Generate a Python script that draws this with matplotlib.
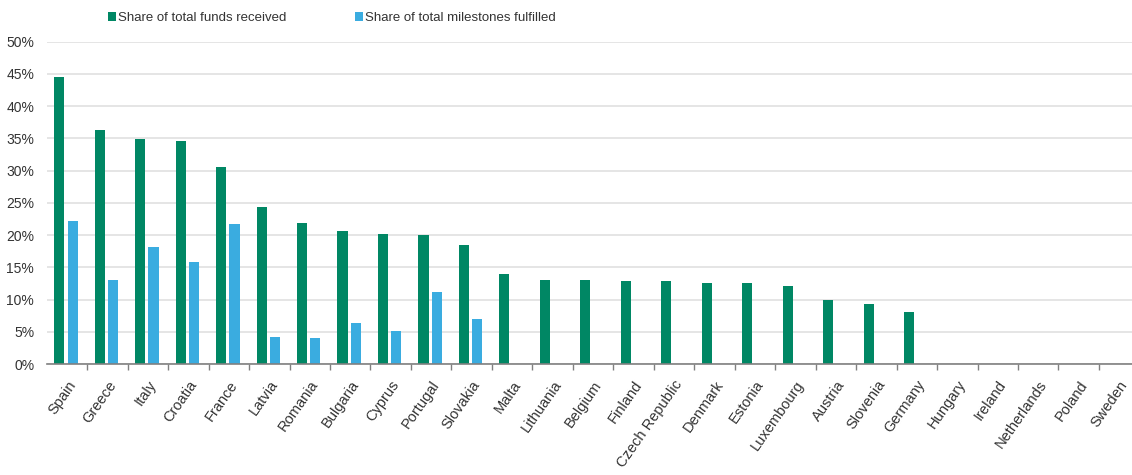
import numpy as np
import matplotlib
matplotlib.use("Agg")
import matplotlib.pyplot as plt
from matplotlib.ticker import PercentFormatter, FixedLocator

plt.rcParams['font.family'] = ['Liberation Sans', 'DejaVu Sans']

countries = ["Spain", "Greece", "Italy", "Croatia", "France", "Latvia", "Romania",
             "Bulgaria", "Cyprus", "Portugal", "Slovakia", "Malta", "Lithuania",
             "Belgium", "Finland", "Czech Republic", "Denmark", "Estonia",
             "Luxembourg", "Austria", "Slovenia", "Germany", "Hungary", "Ireland",
             "Netherlands", "Poland", "Sweden"]

funds = [44.6, 36.3, 34.9, 34.6, 30.6, 24.3, 21.8, 20.7, 20.2, 20.0, 18.5,
         14.0, 13.1, 13.1, 12.9, 12.9, 12.6, 12.6, 12.1, 10.0, 9.3, 8.1,
         0, 0, 0, 0, 0]
milestones = [22.2, 13.0, 18.2, 15.9, 21.7, 4.2, 4.1, 6.3, 5.1, 11.2, 7.0,
              0, 0, 0, 0, 0, 0, 0, 0, 0, 0, 0,
              0, 0, 0, 0, 0]

green = "#008764"
blue = "#3AACE0"

fig = plt.figure(figsize=(11.32, 4.75), dpi=100)
ax = fig.add_axes([46.7 / 1132, 111 / 475, 1 - 46.7 / 1132, (364 - 41.7) / 475])

x = np.arange(len(countries))
ax.bar(x - 0.19, funds, width=0.25, color=green, label="Share of total funds received", zorder=3)
ax.bar(x + 0.14, milestones, width=0.25, color=blue, label="Share of total milestones fulfilled", zorder=3)

ax.set_xlim(-0.5, -0.5 + (1132 - 46.7) / 40.47)
ax.set_ylim(0, 50)
ax.set_yticks(np.arange(0, 51, 5))
ax.yaxis.set_major_formatter(PercentFormatter(decimals=0))
ax.grid(axis="y", color="#e3e3e3", linewidth=1.3, zorder=0)

for s in ["top", "right", "left"]:
    ax.spines[s].set_visible(False)
ax.spines["bottom"].set_color("#808080")
ax.spines["bottom"].set_linewidth(1.2)
ax.spines["bottom"].set_zorder(4)

ax.tick_params(axis="y", length=0, pad=9, labelsize=10, labelcolor="#333333")
ax.set_xticks(x)
ax.set_xticklabels(countries, rotation=55, ha="right", rotation_mode="anchor",
                   fontsize=10.5, color="#333333")
ax.tick_params(axis="x", which="major", length=0, pad=10)
ax.xaxis.set_minor_locator(FixedLocator(np.arange(0.5, len(countries), 1)))
ax.tick_params(axis="x", which="minor", length=4, color="#808080", width=1)

fig.legend(loc="center left", bbox_to_anchor=(108 / 1132, 0.962), ncol=2, frameon=False,
           fontsize=9.5, handlelength=0.6, handleheight=0.6, handletextpad=0.15,
           columnspacing=5.2, labelcolor="#333333", borderpad=0, borderaxespad=0)

plt.savefig("out.png", dpi=100)
